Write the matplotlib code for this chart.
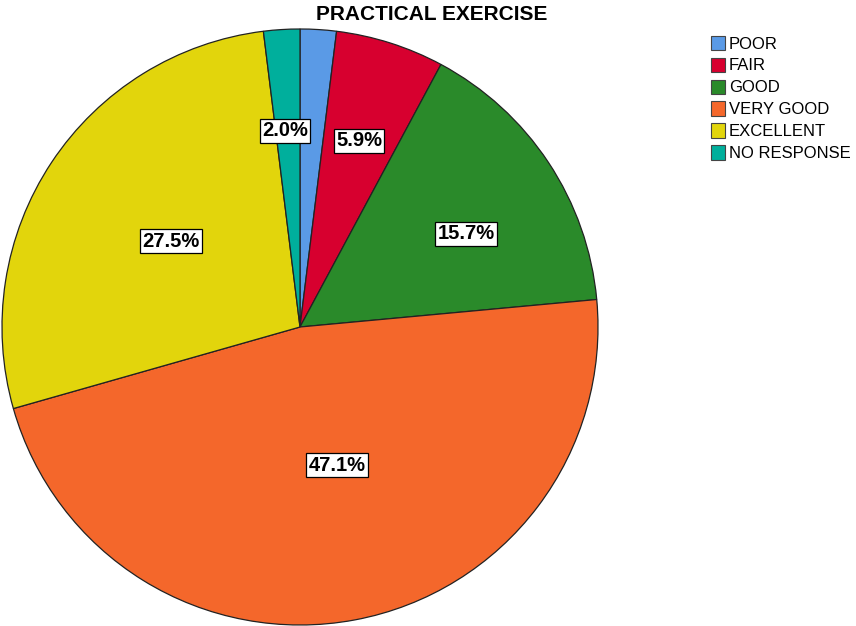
import numpy as np
import matplotlib.pyplot as plt
from matplotlib.patches import Patch

plt.rcParams['font.family'] = ['Liberation Sans', 'DejaVu Sans']

categories = ['POOR', 'FAIR', 'GOOD', 'VERY GOOD', 'EXCELLENT', 'NO RESPONSE']
counts = [1, 3, 8, 24, 14, 1]
colors = ['#5A9AE6', '#D7002F', '#2A8A2A', '#F4672B', '#E2D50C', '#00AF9C']

# where SPSS put the labels (fraction of radius, angle in degrees)
label_pos = [None, (0.655, 72.4), (0.64, 29.3), (0.48, -75.0), (0.52, 146.3), (0.66, 94.4)]

fig = plt.figure(figsize=(8.56, 6.26), dpi=100)
ax = fig.add_axes([2/856, 1/626, 596/856, 596/626])

wedges, _ = ax.pie(counts, colors=colors, startangle=90, counterclock=False,
                   radius=1.0, wedgeprops=dict(edgecolor='#222222', linewidth=0.9))
ax.set_xlim(-1.0, 1.0)
ax.set_ylim(-1.0, 1.0)
ax.set_aspect('equal')

total = sum(counts)
for c, pos in zip(counts, label_pos):
    if pos is None:
        continue
    r, a = pos
    x, y = r*np.cos(np.radians(a)), r*np.sin(np.radians(a))
    ax.text(x, y, '{:.1f}%'.format(100*c/total), ha='center', va='center',
            fontsize=14.5, fontweight='bold',
            bbox=dict(boxstyle='square,pad=0.12', fc='white', ec='black', lw=0.9))

fig.text(432/856, 1 - 15/626, 'PRACTICAL EXERCISE', ha='center', va='center',
         fontsize=15, fontweight='bold')

handles = [Patch(facecolor=col, edgecolor='#444444', linewidth=0.8) for col in colors]
fig.legend(handles, categories, loc='upper left', bbox_to_anchor=(699/856, 1 - 24/626),
           frameon=False, fontsize=12, handlelength=0.85, handleheight=0.95,
           handletextpad=0.25, labelspacing=0.36, borderpad=0.2)

fig.savefig('out.png', dpi=100)
